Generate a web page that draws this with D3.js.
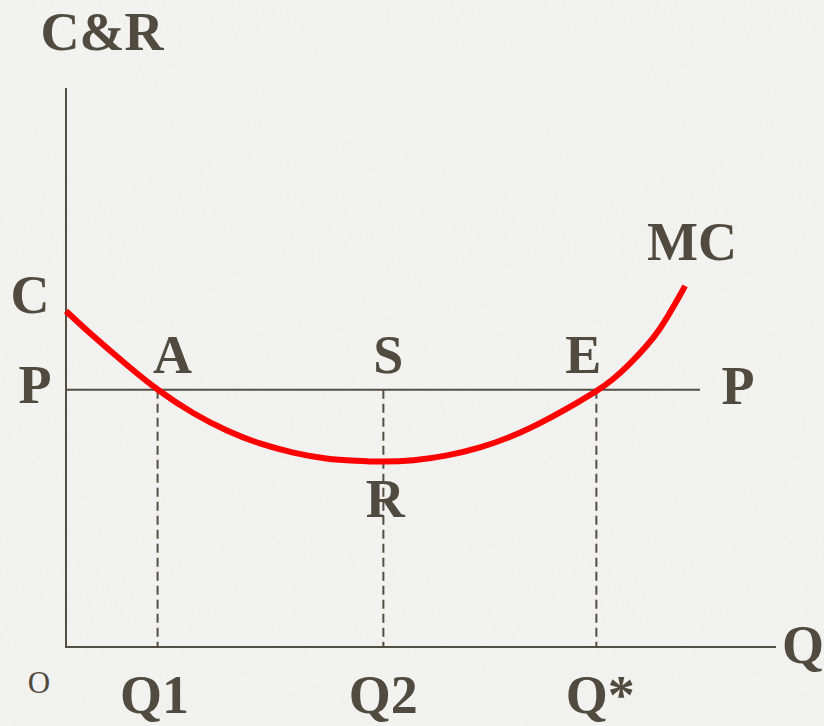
<!DOCTYPE html>
<html>
<head>
<meta charset="utf-8">
<script src="https://cdn.jsdelivr.net/npm/d3@7"></script>
<style>
  html, body { margin: 0; padding: 0; background: #f2f2f1; }
  svg { display: block; }
  text { font-family: "Liberation Serif", "Times New Roman", serif; font-weight: bold; fill: #504a3f; }
</style>
</head>
<body>
<svg id="chart" width="824" height="726"></svg>
<script>
// Marginal cost curve (quantity, cost) in chart units
const mcQuantity = [0, 3.8, 8.6, 12.8, 17.9, 22.7, 27.3, 32.0, 36.8, 40.7, 44.6, 48.9, 53.7, 58.3, 63.0, 67.7, 72.4, 74.8, 77.0, 79.0, 81.8, 83.7, 85.4, 87.2];
const mcCost     = [60.1, 55.6, 50.4, 46.0, 41.7, 38.6, 36.3, 34.7, 33.6, 33.3, 33.1, 33.3, 34.2, 35.6, 37.7, 40.6, 44.0, 45.8, 47.8, 50.1, 53.8, 56.9, 60.5, 64.6];

// Price level and the marked quantities
const priceLevel = 46;
const priceEnd = 89.3;
const quantityMarks = ["Q1", "Q2", "Q*"];
const quantityValues = [12.9, 44.7, 74.7];
const pointLabels = ["A", "S", "E"];

const W = 824, H = 726;
const svg = d3.select("#chart");

// Faint paper grain behind the diagram
const defs = svg.append("defs");
const f = defs.append("filter").attr("id", "grain").attr("x", 0).attr("y", 0).attr("width", "100%").attr("height", "100%");
f.append("feTurbulence").attr("type", "fractalNoise").attr("baseFrequency", "0.5 0.12").attr("numOctaves", 2).attr("seed", 7).attr("result", "n");
f.append("feColorMatrix").attr("type", "matrix")
  .attr("values", "0 0 0 0 0.5  0 0 0 0 0.5  0 0 0 0 0.49  0 0 0 -1.8 1.0");
svg.append("rect").attr("width", W).attr("height", H).attr("fill", "#f2f2f1");
svg.append("rect").attr("width", W).attr("height", H).attr("filter", "url(#grain)").attr("opacity", 0.06);

const x = d3.scaleLinear().domain([0, 100]).range([66, 776]);
const y = d3.scaleLinear().domain([0, 100]).range([647, 88]);

const ink = "#544e43";

// Axes
svg.append("line").attr("x1", x(0)).attr("x2", x(0)).attr("y1", y(0) + 1).attr("y2", y(100))
  .attr("stroke", ink).attr("stroke-width", 2);
svg.append("line").attr("x1", x(0)).attr("x2", x(100)).attr("y1", y(0)).attr("y2", y(0))
  .attr("stroke", ink).attr("stroke-width", 2);

// Price line
svg.append("line").attr("x1", x(0)).attr("x2", x(priceEnd)).attr("y1", y(priceLevel)).attr("y2", y(priceLevel))
  .attr("stroke", ink).attr("stroke-width", 2);

// Dashed drop lines
svg.selectAll("line.drop").data(quantityValues).join("line").attr("class", "drop")
  .attr("x1", d => x(d)).attr("x2", d => x(d))
  .attr("y1", y(priceLevel)).attr("y2", y(0))
  .attr("stroke", ink).attr("stroke-width", 2).attr("stroke-dasharray", "9,5");

// MC curve
const pts = mcQuantity.map((q, i) => [q, mcCost[i]]);
svg.append("path").datum(pts)
  .attr("d", d3.line().x(d => x(d[0])).y(d => y(d[1])).curve(d3.curveBasis))
  .attr("fill", "none").attr("stroke", "#ff0000").attr("stroke-width", 6);

// Labels
const fs = 54;
function label(t, px, py, size, anchor, weight) {
  svg.append("text").attr("x", px).attr("y", py).attr("font-size", size)
    .attr("text-anchor", anchor || "middle").style("font-weight", weight || "bold").text(t);
}
label("C&R", 102, 50, fs);
label("C", 30, y(mcCost[0]) + 2, fs);
label("P", 35, y(priceLevel) + 13, fs);
label("P", 738, y(priceLevel) + 14, fs);
label("MC", 692, 260, fs);
label("Q", 803, 663, fs);
label("O", 39, 693, 31, "middle", "normal");

pointLabels.forEach((t, i) => {
  const dx = [15, 5, -13][i];
  label(t, x(quantityValues[i]) + dx, y(priceLevel) - 17, fs);
});
label("R", x(quantityValues[1]) + 2, 517, fs);

quantityMarks.forEach((t, i) => {
  const dx = [-3, 0, 4][i];
  label(t, x(quantityValues[i]) + dx, 713, fs);
});
</script>
</body>
</html>
